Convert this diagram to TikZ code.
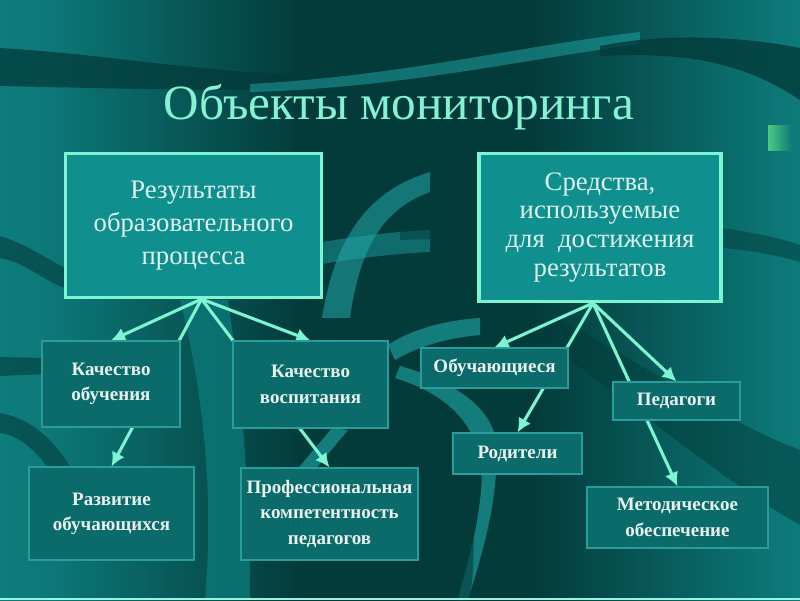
\documentclass[tikz,border=0pt]{standalone}
\usepackage{fontspec}
\setmainfont{Liberation Serif}
\usepackage{tikz}
\usetikzlibrary{calc,arrows.meta}

\definecolor{bglight}{HTML}{1A9E9E}
\definecolor{bgmid}{HTML}{0D7878}
\definecolor{bgdark}{HTML}{033A3A}
\definecolor{bghi}{HTML}{22A9A9}
\definecolor{titlecol}{HTML}{86F2D4}
\definecolor{boxline}{HTML}{7DF5D2}
\definecolor{boxfill}{HTML}{108F8F}
\definecolor{boxtext}{HTML}{DDF3EE}
\definecolor{subfill}{HTML}{0B6B6B}
\definecolor{subline}{HTML}{2A9C9A}
\definecolor{subtext}{HTML}{E8F2EE}

\pgfdeclarelayer{bg}
\pgfdeclarelayer{links}
\pgfsetlayers{bg,links,main}
\pgfdeclarehorizontalshading{bgshade}{100bp}{color(0bp)=(bglight); color(28bp)=(bgmid); color(44bp)=(bgdark); color(58bp)=(bgdark); color(74bp)=(bgmid); color(100bp)=(bglight)}

\tikzset{
  heading/.style={text=titlecol,font=\fontsize{35}{40}\selectfont,inner sep=0pt},
  mainbox/.style={draw=boxline,line width=2.2pt,fill=boxfill,text=boxtext,align=center,inner sep=0pt,font=\fontsize{19}{23.4}\selectfont},
  subbox/.style={draw=subline,line width=0.8pt,fill=subfill,text=subtext,align=center,inner sep=0pt,font=\bfseries\fontsize{13.5}{18}\selectfont},
  link/.style={draw=boxline,line width=2.2pt,-{Latex[length=10pt,width=10pt]}}
}

\begin{document}
\begin{tikzpicture}[x=0.025cm,y=-0.025cm]
\useasboundingbox (0,0) rectangle (800,600);
\begin{pgfonlayer}{bg}
\shade[shading=bgshade] (0,0) rectangle (800,600);
\fill[bgdark,opacity=.75] (0,48) .. controls (120,55) and (230,78) .. (345,74) -- (345,88) .. controls (220,92) and (100,88) .. (0,86) -- cycle;
\fill[bghi,opacity=.5] (250,84) .. controls (400,76) and (520,46) .. (640,32) -- (640,44) .. controls (520,60) and (400,88) .. (250,92) -- cycle;
\fill[bgdark,opacity=.8] (600,46) .. controls (680,30) and (760,40) .. (800,48) -- (800,100) .. controls (740,60) and (680,52) .. (600,56) -- cycle;
\fill[bgdark,opacity=.6] (0,236) .. controls (30,245) and (50,262) .. (70,270) -- (70,290) .. controls (45,282) and (25,262) .. (0,258) -- cycle;
\fill[bgdark,opacity=.6] (0,357) -- (45,358) -- (45,374) -- (0,376) -- cycle;
\fill[bgdark,opacity=.6] (0,413) .. controls (30,418) and (55,440) .. (72,470) -- (50,470) .. controls (35,450) and (20,436) .. (0,433) -- cycle;
\fill[bgmid,opacity=.8] (180,300) .. controls (200,380) and (215,480) .. (205,600) -- (250,600) .. controls (250,480) and (240,380) .. (228,300) -- cycle;
\fill[bghi,opacity=.55] (322,318) .. controls (335,235) and (370,190) .. (430,172) -- (430,192) .. controls (385,208) and (360,245) .. (350,318) -- cycle;
\fill[bghi,opacity=.45] (322,242) .. controls (360,236) and (390,232) .. (430,230) -- (430,252) .. controls (390,254) and (360,258) .. (322,264) -- cycle;
\fill[bghi,opacity=.6] (388,345) .. controls (410,330) and (445,320) .. (480,318) -- (480,335) .. controls (445,338) and (415,348) .. (395,360) -- cycle;
\fill[bghi,opacity=.6] (395,378) .. controls (450,395) and (490,430) .. (480,500) .. controls (475,545) and (462,580) .. (458,600) -- (468,600) .. controls (480,560) and (500,500) .. (496,440) .. controls (490,405) and (450,380) .. (400,366) -- cycle;
\fill[bghi,opacity=.6] (332,428) -- (348,430) -- (308,478) -- (295,472) -- cycle;
\fill[bgdark,opacity=.6] (400,400) .. controls (420,450) and (430,520) .. (420,600) -- (470,600) .. controls (480,520) and (470,450) .. (440,400) -- cycle;
\fill[bgdark,opacity=.5] (555,318) .. controls (640,360) and (720,420) .. (800,450) -- (800,525) .. controls (720,480) and (630,400) .. (540,340) -- cycle;
\fill[bgdark,opacity=.5] (722,228) .. controls (750,232) and (780,238) .. (800,245) -- (800,262) .. controls (780,256) and (750,250) .. (722,248) -- cycle;
\fill[bgdark,opacity=.5] (400,218) .. controls (430,215) and (455,220) .. (478,226) -- (478,246) .. controls (455,240) and (430,238) .. (400,240) -- cycle;
\shade[left color=green!40!teal!70!white,middle color=bgdark,right color=bgmid] (768,125) rectangle (792,150);
\fill[boxline!80!white] (0,597.5) rectangle (800,600);
\end{pgfonlayer}

\node[heading] (ttl) at (399,107) {Объекты мониторинга};
\node[mainbox,minimum width=6.4cm,minimum height=3.6cm] (res) at (193.5,225.5) {Результаты\\образовательного\\процесса};
\node[mainbox,minimum width=6.05cm,minimum height=3.7cm,font=\fontsize{19}{20.6}\selectfont] (tools) at (600,227.5) {Средства,\\используемые\\для\ \ достижения\\результатов};

\node[subbox,minimum width=3.45cm,minimum height=2.15cm] (kob) at (111,384) {Качество\\обучения};
\node[subbox,minimum width=3.875cm,minimum height=2.175cm] (kvo) at (310.5,384.5) {Качество\\воспитания};
\node[subbox,minimum width=4.125cm,minimum height=2.325cm] (razv) at (111.5,513.5) {Развитие\\обучающихся};
\node[subbox,minimum width=4.425cm,minimum height=2.3cm] (prof) at (329.5,514) {Профессиональная\\компетентность\\педагогов};
\node[subbox,minimum width=3.675cm,minimum height=1cm] (obu) at (494.5,368) {Обучающиеся};
\node[subbox,minimum width=3.175cm,minimum height=0.95cm] (ped) at (676.5,401) {Педагоги};
\node[subbox,minimum width=3.225cm,minimum height=1.025cm] (rod) at (517.5,453.5) {Родители};
\node[subbox,minimum width=4.525cm,minimum height=1.525cm] (met) at (677.5,517.5) {Методическое\\обеспечение};

\coordinate (lfork) at ($(res.south)+(8,0)$);
\coordinate (rfork) at ($(tools.south)+(-7,0)$);
\begin{pgfonlayer}{links}
\draw[link] (lfork) -- (kob.north);
\draw[link] (lfork) -- (razv.north);
\draw[link] (lfork) -- (prof.north);
\draw[link] (lfork) -- (kvo.north);
\draw[link] (rfork) -- (obu.north);
\draw[link] (rfork) -- (rod.north);
\draw[link] (rfork) -- (met.north);
\draw[link] (rfork) -- (ped.north);
\end{pgfonlayer}
\end{tikzpicture}
\end{document}
